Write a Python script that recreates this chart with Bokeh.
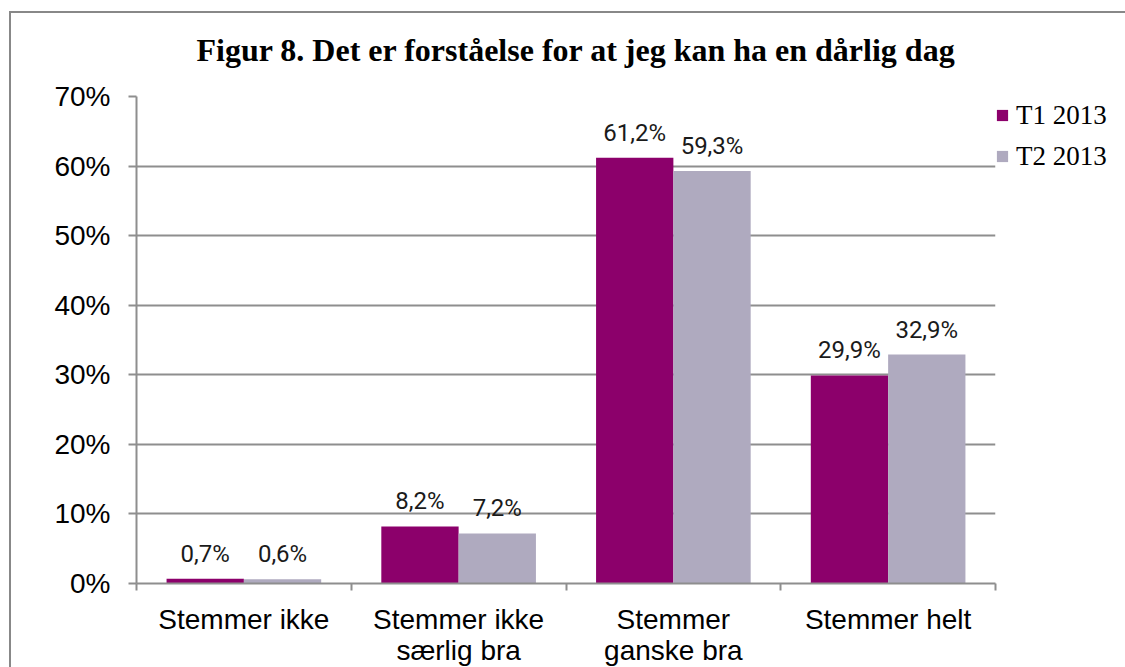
from bokeh.plotting import figure
from bokeh.models import (ColumnDataSource, FixedTicker, Legend, LegendItem,
                          Range1d, InlineStyleSheet)
from bokeh.core.properties import value
from bokeh.embed import file_html
from bokeh.resources import INLINE

# ---- data ----
categories = ["Stemmer ikke", "Stemmer ikke\nsærlig bra", "Stemmer\nganske bra", "Stemmer helt"]
series_names = ["T1 2013", "T2 2013"]
t1_values = [0.7, 8.2, 61.2, 29.9]
t2_values = [0.6, 7.2, 59.3, 32.9]
y_ticks = [0, 10, 20, 30, 40, 50, 60, 70]
y_tick_labels = ["0%", "10%", "20%", "30%", "40%", "50%", "60%", "70%"]
title_text = "Figur 8. Det er forståelse for at jeg kan ha en dårlig dag"

colors = ["#8C006B", "#AFAABF"]
grid_color = "#8E8E8E"
bar_w = 0.36
label_font = "Roboto"

centers = [i + 0.5 for i in range(len(categories))]

p = figure(frame_width=859, frame_height=487, output_backend="svg", toolbar_location=None,
           x_range=Range1d(0, len(categories)), y_range=Range1d(0, 70),
           min_border_left=136, min_border_right=120, min_border_top=95, min_border_bottom=60)
p.background_fill_color = "white"
p.border_fill_color = "white"
p.outline_line_color = None

renderers = []
for k, (vals, col) in enumerate(zip([t1_values, t2_values], colors)):
    off = -bar_w / 2 if k == 0 else bar_w / 2
    xs = [c + off for c in centers]
    labels = [f"{v:.1f}%".replace(".", ",") for v in vals]
    src = ColumnDataSource(dict(x=xs, top=vals, lab=labels))
    r = p.vbar(x="x", top="top", width=bar_w, source=src, fill_color=col, line_color=None)
    renderers.append(r)
    p.text(x="x", y="top", text="lab", source=src, text_align="center",
           text_baseline="alphabetic", y_offset=-25,
           text_font=value(label_font), text_font_size="24px",
           text_color="#1a1a1a")

# axes
xa = p.xaxis[0]
xa.ticker = FixedTicker(ticks=centers, minor_ticks=list(range(len(categories) + 1)))
xa.major_label_overrides = {c: lab for c, lab in zip(centers, categories)}
xa.major_tick_out = 0
xa.major_tick_in = 0
xa.minor_tick_out = 7
xa.minor_tick_in = 0
xa.minor_tick_line_color = grid_color
xa.minor_tick_line_width = 2
xa.axis_line_color = grid_color
xa.axis_line_width = 2
xa.major_label_text_font = "Liberation Sans"
xa.major_label_text_font_size = "28px"
xa.major_label_text_color = "black"
xa.major_label_text_line_height = 1.0
xa.major_label_standoff = 13

ya = p.yaxis[0]
ya.ticker = FixedTicker(ticks=y_ticks, minor_ticks=[])
ya.major_label_overrides = {t: l for t, l in zip(y_ticks, y_tick_labels)}
ya.major_tick_out = 8
ya.major_tick_in = 0
ya.major_tick_line_color = grid_color
ya.major_tick_line_width = 2
ya.axis_line_color = grid_color
ya.axis_line_width = 2
ya.major_label_text_font = "Liberation Sans"
ya.major_label_text_font_size = "28px"
ya.major_label_text_color = "black"
ya.major_label_standoff = 18

p.xgrid.grid_line_color = None
p.ygrid.ticker = FixedTicker(ticks=y_ticks)
p.ygrid.grid_line_color = grid_color
p.ygrid.grid_line_width = 2

# title
p.title.text = title_text
p.title.align = "left"
p.title.offset = 60
p.title.standoff = 58
p.title.text_font = "Liberation Serif"
p.title.text_font_style = "bold"
p.title.text_font_size = "32px"
p.title.text_color = "black"

# legend
legend = Legend(items=[LegendItem(label=n, renderers=[r]) for n, r in zip(series_names, renderers)],
                location="top_left", margin=0, padding=9, spacing=3,
                glyph_width=14, glyph_height=14, label_standoff=7, label_height=38,
                label_text_font="Liberation Serif", label_text_font_size="27px",
                label_text_color="black", border_line_color=None,
                background_fill_alpha=0)
p.add_layout(legend, "right")

# outer chart-area border (only top and left edges fall inside the picture)
p.stylesheets = [InlineStyleSheet(css="""
:host { position: relative; }
:host::after { content: ""; position: absolute; left: 9px; top: 11px; right: 0; bottom: 0;
  border-left: 2px solid #888; border-top: 2px solid #888; border-right: none; border-bottom: none;
  z-index: 100; pointer-events: none; }
""")]

open("out.html", "w").write(file_html(p, INLINE))
